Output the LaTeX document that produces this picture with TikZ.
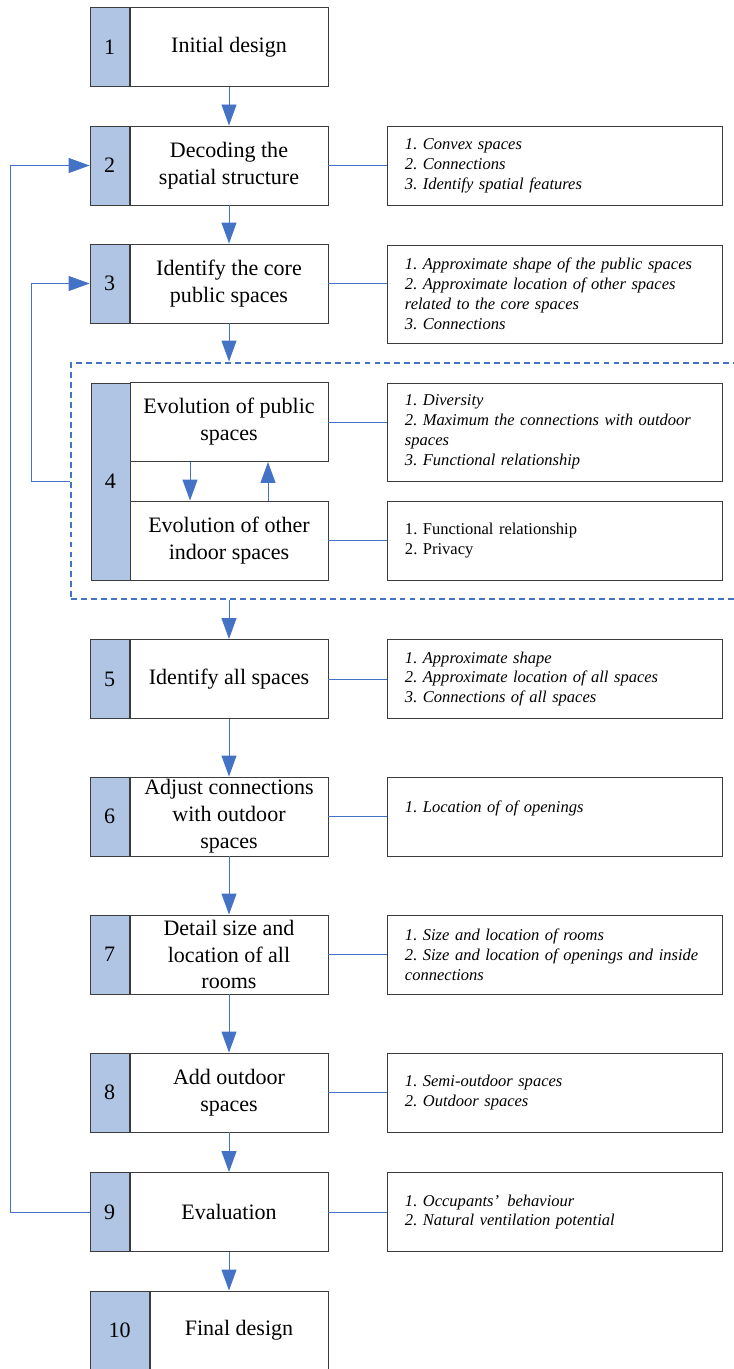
\documentclass[tikz,border=0pt]{standalone}
\usepackage{fontspec}
\setmainfont{Liberation Serif}
\usetikzlibrary{arrows.meta, positioning}
\definecolor{flowblue}{RGB}{68, 114, 196}
\definecolor{stripfill}{RGB}{176, 196, 228}
\definecolor{boxline}{RGB}{60, 60, 60}
\newcommand{\stepfont}{\fontsize{18.8}{23}\selectfont}
\newcommand{\notefont}{\fontsize{14.1}{17}\selectfont}
\frenchspacing

\begin{document}
\begin{tikzpicture}[
	x=0.03cm, y=-0.03cm,
	>={Triangle[length=0.63cm, width=0.45cm]},
	% Styles
	stepbox/.style={draw=boxline, fill=white, line width=0.8pt, minimum width=5.94cm, minimum height=2.37cm, align=center, inner sep=0pt, font=\stepfont},
	numbox/.style={draw=boxline, fill=stripfill, line width=0.8pt, minimum width=1.17cm, minimum height=2.37cm, inner sep=0pt, font=\stepfont},
	notebox/.style={draw=boxline, line width=0.8pt, minimum width=10.05cm, minimum height=2.37cm, text width=8.97cm, inner xsep=0.54cm, align=left, font=\notefont\itshape},
	flow/.style={->, flowblue, line width=0.8pt},
	link/.style={flowblue, line width=0.8pt},
	groupframe/.style={draw=flowblue, line width=2.5pt, dash pattern=on 5pt off 3.5pt, minimum width=20.22cm, minimum height=7.08cm}
	]
	\useasboundingbox (0, 0) rectangle (734, 1369);
	
	% ==========================================
	% Dashed frame round step 4
	% ==========================================
	\node[groupframe] (frame4) at (408, 481) {};
	
	% ==========================================
	% Steps (left column)
	% ==========================================
	\node[stepbox] (s1) at (229, 47) {Initial design};
	\node[numbox, left=0pt of s1] (n1) {1};
	
	\node[stepbox] (s2) at (229, 165.5) {Decoding the\\spatial structure};
	\node[numbox, left=0pt of s2] (n2) {2};
	
	\node[stepbox] (s3) at (229, 283.5) {Identify the core\\public spaces};
	\node[numbox, left=0pt of s3] (n3) {3};
	
	% Step 4: two linked boxes on one number strip
	\node[numbox, minimum height=5.91cm] (n4) at (110.5, 481.5) {4};
	\node[stepbox] (s4a) at (229, 422) {Evolution of public\\spaces};
	\node[stepbox] (s4b) at (229, 540.5) {Evolution of other\\indoor spaces};
	
	\node[stepbox] (s5) at (229, 679) {Identify all spaces};
	\node[numbox, left=0pt of s5] (n5) {5};
	
	\node[stepbox] (s6) at (229, 816.5) {Adjust connections\\with outdoor\\spaces};
	\node[numbox, left=0pt of s6] (n6) {6};
	
	\node[stepbox] (s7) at (229, 954.5) {Detail size and\\location of all\\rooms};
	\node[numbox, left=0pt of s7] (n7) {7};
	
	\node[stepbox] (s8) at (229, 1092.5) {Add outdoor\\spaces};
	\node[numbox, left=0pt of s8] (n8) {8};
	
	\node[stepbox] (s9) at (229, 1212) {Evaluation};
	\node[numbox, left=0pt of s9] (n9) {9};
	
	\node[stepbox, minimum width=5.34cm] (s10) at (239, 1330.5) {Final design};
	\node[numbox, minimum width=1.77cm, left=0pt of s10] (n10) {10};
	
	% ==========================================
	% Notes (right column)
	% ==========================================
	\node[notebox] (r2) at (554.5, 165.5) {1. Convex spaces\\2. Connections\\3. Identify spatial features};
	\node[notebox, minimum height=2.94cm] (r3) at (554.5, 294) {1. Approximate shape of the public spaces\\2. Approximate location of other spaces\\related to the core spaces\\3. Connections};
	\node[notebox, minimum height=2.94cm] (r4a) at (554.5, 432) {1. Diversity\\2. Maximum the connections with outdoor\\spaces\\3. Functional relationship};
	\node[notebox, font=\notefont] (r4b) at (554.5, 540.5) {1. Functional relationship\\2. Privacy};
	\node[notebox] (r5) at (554.5, 679) {1. Approximate shape\\2. Approximate location of all spaces\\3. Connections of all spaces};
	\node[notebox] (r6) at (554.5, 816.5) {1. Location of of openings\\\mbox{}};
	\node[notebox] (r7) at (554.5, 954.5) {1. Size and location of rooms\\2. Size and location of openings and inside\\connections};
	\node[notebox] (r8) at (554.5, 1092.5) {1. Semi-outdoor spaces\\2. Outdoor spaces};
	\node[notebox] (r9) at (554.5, 1212) {1. Occupants’\enspace behaviour\\2. Natural ventilation potential};
	
	% ==========================================
	% Connectors
	% ==========================================
	
	% Main flow
	\draw[flow] (s1.south) -- (s2.north);
	\draw[flow] (s2.south) -- (s3.north);
	\draw[flow] (s3.south) -- (s3.south |- frame4.north);
	\draw[flow] (s5.north |- frame4.south) -- (s5.north);
	\draw[flow] (s5.south) -- (s6.north);
	\draw[flow] (s6.south) -- (s7.north);
	\draw[flow] (s7.south) -- (s8.north);
	\draw[flow] (s8.south) -- (s9.north);
	\draw[flow] (s9.south) -- (s9.south |- s10.north);
	
	% Inside step 4
	\draw[flow] ([xshift=-1.17cm]s4a.south) -- ([xshift=-1.17cm]s4b.north);
	\draw[flow] ([xshift=1.17cm]s4b.north) -- ([xshift=1.17cm]s4a.south);
	
	% Feedback loops
	\draw[flow] (frame4.west) -- ++(-38, 0) |- (n3.west);
	\draw[flow] (n9.west) -- ++(-79, 0) |- (n2.west);
	
	% Links to the notes
	\draw[link] (s2.east) -- (r2.west);
	\draw[link] (s3.east) -- (s3.east -| r3.west);
	\draw[link] (s4a.east) -- (s4a.east -| r4a.west);
	\draw[link] (s4b.east) -- (r4b.west);
	\draw[link] (s5.east) -- (r5.west);
	\draw[link] (s6.east) -- (r6.west);
	\draw[link] (s7.east) -- (r7.west);
	\draw[link] (s8.east) -- (r8.west);
	\draw[link] (s9.east) -- (r9.west);
	
\end{tikzpicture}
\end{document}
